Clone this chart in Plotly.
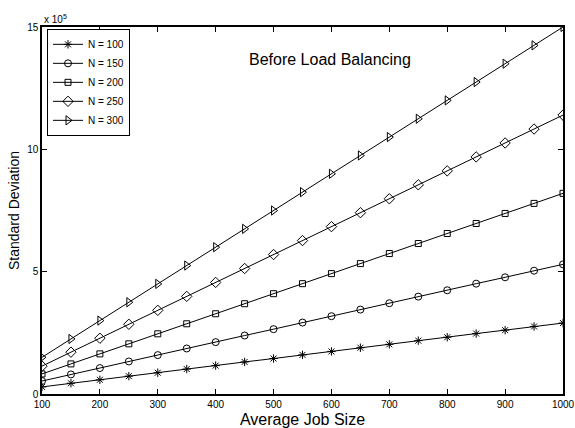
import plotly.graph_objects as go

x_vals = [100, 150, 200, 250, 300, 350, 400, 450, 500, 550, 600, 650, 700, 750, 800, 850, 900, 950, 1000]

n100 = [0.29, 0.44, 0.58, 0.73, 0.87, 1.02, 1.16, 1.31, 1.45, 1.60, 1.74, 1.89, 2.03, 2.18, 2.32, 2.47, 2.61, 2.76, 2.90]
n150 = [0.53, 0.80, 1.06, 1.33, 1.59, 1.86, 2.12, 2.39, 2.65, 2.92, 3.18, 3.45, 3.71, 3.98, 4.24, 4.51, 4.77, 5.04, 5.30]
n200 = [0.82, 1.23, 1.64, 2.05, 2.46, 2.87, 3.28, 3.69, 4.10, 4.51, 4.92, 5.33, 5.74, 6.15, 6.56, 6.97, 7.38, 7.79, 8.20]
n250 = [1.14, 1.71, 2.28, 2.85, 3.42, 3.99, 4.56, 5.13, 5.70, 6.27, 6.84, 7.41, 7.98, 8.55, 9.12, 9.69, 10.26, 10.83, 11.40]
n300 = [1.50, 2.25, 3.00, 3.75, 4.50, 5.25, 6.00, 6.75, 7.50, 8.25, 9.00, 9.75, 10.50, 11.25, 12.00, 12.75, 13.50, 14.25, 15.00]

series_names = ["N = 100", "N = 150", "N = 200", "N = 250", "N = 300"]
series_vals = [n100, n150, n200, n250, n300]
symbols = ["asterisk-open", "circle-open", "square-open", "diamond-open", "triangle-right-open"]
sizes = [7, 7, 6, 8, 8]

x_ticks = [100, 200, 300, 400, 500, 600, 700, 800, 900, 1000]
y_ticks = [0, 5, 10, 15]

FONT = "Liberation Sans, Arial, Helvetica, sans-serif"

fig = go.Figure()
for name, vals, sym, sz in zip(series_names, series_vals, symbols, sizes):
    fig.add_trace(go.Scatter(
        x=x_vals, y=vals, name=name, mode="lines+markers",
        line=dict(color="black", width=1),
        marker=dict(symbol=sym, size=sz, color="black", line=dict(color="black", width=1)),
    ))

axis_common = dict(
    showline=True, linecolor="black", linewidth=1.5, mirror="ticks",
    ticks="inside", ticklen=5, tickcolor="black", showgrid=False, zeroline=False,
    tickfont=dict(family=FONT, size=10, color="black"), automargin=False,
)

fig.update_layout(
    width=575, height=428,
    margin=dict(l=42, r=12, t=27, b=34),
    paper_bgcolor="white", plot_bgcolor="white",
    font=dict(family=FONT, color="black"),
    xaxis=dict(range=[100, 1000], tickvals=x_ticks,
               title=dict(text="Average Job Size", font=dict(family=FONT, size=16), standoff=8),
               **axis_common),
    yaxis=dict(range=[0, 15], tickvals=y_ticks,
               title=dict(text="Standard Deviation", font=dict(family=FONT, size=14), standoff=4),
               **axis_common),
    legend=dict(x=0.0096, y=0.995, xanchor="left", yanchor="top",
                bgcolor="white", bordercolor="black", borderwidth=1,
                font=dict(family=FONT, size=10), tracegroupgap=0, itemwidth=30,
                entrywidth=50),
    showlegend=True,
    annotations=[
        dict(text="Before Load Balancing", x=0.553, y=0.912, xref="paper", yref="paper",
             showarrow=False, font=dict(family=FONT, size=16), xanchor="center", yanchor="middle"),
        dict(text="x 10<sup>5</sup>", x=0, y=1.0, xref="paper", yref="paper",
             showarrow=False, font=dict(family=FONT, size=10), xanchor="left", yanchor="bottom",
             yshift=0),
    ],
)

fig.write_html("out.html")
